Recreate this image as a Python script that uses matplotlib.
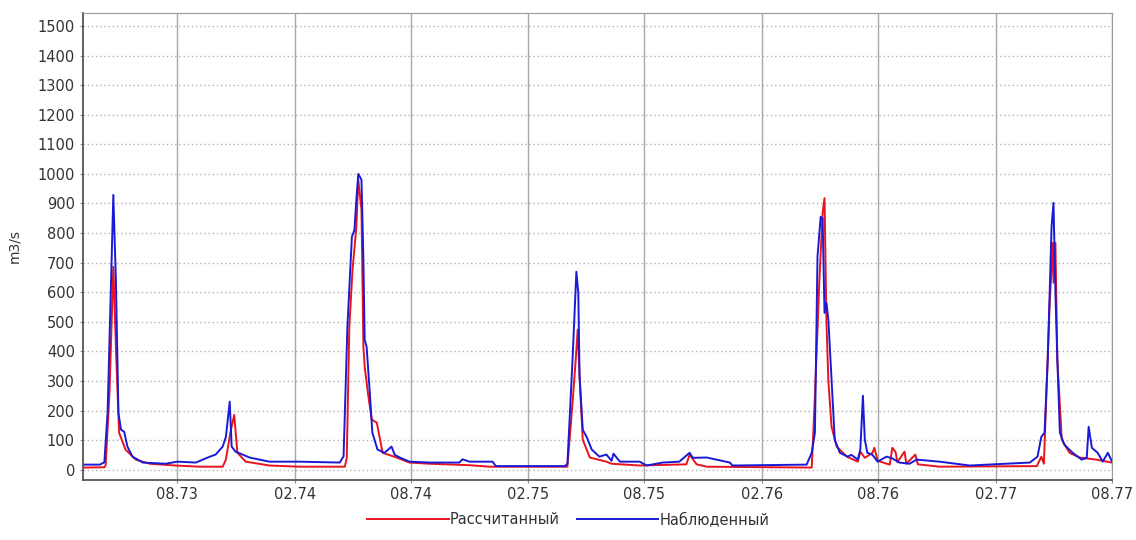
import matplotlib
matplotlib.use("Agg")
import matplotlib.pyplot as plt
import matplotlib.dates as mdates
import pandas as pd

plt.rcParams['font.family'] = ['DejaVu Sans']

# Reference date for the day offsets below (first labelled tick, 08.73)
base_date = "1973-08-01"

# Observed discharge (blue): day offset from base_date, value in m3/s
obs_days = [-148, -121, -114, -109, -104, -100, -96, -92, -88, -83, -78, -70, -54, -18, 0,
            29, 51, 60, 71, 76, 82, 85, 91, 113, 144, 191, 254, 260, 266, 273, 277, 280,
            283, 288, 291, 293, 296, 301, 305, 313, 324, 335, 340, 348, 363, 395, 441, 446,
            457, 493, 498, 606, 610, 618, 624, 627, 629, 634, 640, 648, 660, 671, 679, 682,
            692, 723, 734, 759, 785, 801, 806, 828, 864, 868, 984, 992, 997, 1001, 1006,
            1009, 1012, 1015, 1018, 1023, 1028, 1036, 1048, 1054, 1064, 1068, 1072, 1075,
            1079, 1087, 1095, 1109, 1118, 1129, 1145, 1156, 1192, 1239, 1333, 1345, 1351,
            1356, 1361, 1367, 1370, 1373, 1376, 1380, 1387, 1400, 1414, 1422, 1425, 1430,
            1439, 1447, 1455, 1461]
obs_vals = [17, 17, 25, 192, 600, 929, 640, 192, 135, 128, 78, 44, 24, 20, 27,
            24, 44, 51, 78, 111, 230, 78, 61, 41, 27, 27, 24, 45, 483, 787, 811, 912,
            1000, 980, 709, 439, 416, 260, 125, 68, 57, 78, 50, 41, 27, 24, 24, 35,
            27, 27, 12, 12, 20, 372, 669, 598, 314, 135, 111, 68, 44, 51, 30, 54,
            27, 27, 14, 24, 27, 57, 40, 41, 24, 14, 17, 57, 125, 720, 855,
            850, 530, 564, 507, 304, 101, 57, 44, 50, 34, 68, 250, 101,
            57, 50, 27, 44, 38, 24, 20, 34, 27, 14, 24, 44, 111,
            125, 372, 821, 902, 598, 372, 125, 84, 57, 34, 40, 145, 74,
            57, 27, 57, 30]

# Calculated discharge (red)
calc_days = [-148, -114, -112, -106, -100, -96, -91, -81, -65, -43, -3, 35, 71, 76, 83, 89,
             94, 107, 144, 191, 262, 265, 269, 274, 280, 283, 288, 291, 293, 298, 304, 312,
             321, 343, 363, 395, 457, 488, 610, 618, 623, 626, 629, 634, 645, 671, 679, 723,
             796, 801, 812, 828, 992, 997, 1004, 1009, 1012, 1015, 1018, 1023, 1031, 1047,
             1064, 1068, 1075, 1087, 1090, 1095, 1114, 1118, 1123, 1126, 1137, 1140, 1154,
             1158, 1192, 1344, 1351, 1355, 1359, 1364, 1369, 1370, 1373, 1376, 1383, 1395,
             1411, 1437, 1461]
calc_vals = [7, 8, 15, 260, 686, 416, 125, 68, 34, 20, 14, 10, 10, 34, 125, 185,
             57, 27, 14, 10, 10, 40, 483, 676, 821, 980, 878, 416, 348, 260, 169, 159,
             57, 41, 24, 20, 15, 10, 10, 226, 372, 473, 314, 101, 41, 27, 20, 14,
             18, 51, 18, 10, 7, 250, 642, 868, 918, 500, 300, 145, 78, 44,
             27, 61, 40, 57, 74, 30, 17, 74, 60, 25, 61, 20, 51,
             18, 10, 12, 44, 20, 260, 560, 767, 632, 767, 372, 101, 57,
             41, 34, 24]

series_labels = ["Рассчитанный", "Наблюденный"]

obs_dates = pd.to_datetime(base_date) + pd.to_timedelta(obs_days, unit="D")
calc_dates = pd.to_datetime(base_date) + pd.to_timedelta(calc_days, unit="D")

fig = plt.figure(figsize=(11.36, 5.4), dpi=100)
ax = fig.add_axes([0.0733, 0.1111, 0.9053, 0.8654])

ax.plot(calc_dates, calc_vals, color="#e8141c", lw=1.4, label=series_labels[0])
ax.plot(obs_dates, obs_vals, color="#1a1ad6", lw=1.4, label=series_labels[1])

ax.set_xlim(pd.to_datetime("1973-03-07"), pd.to_datetime("1977-08-01"))
ax.set_ylim(-35, 1545)
ax.set_yticks(range(0, 1501, 100))

ax.xaxis.set_major_locator(mdates.MonthLocator(bymonth=[2, 8]))
ax.xaxis.set_major_formatter(mdates.DateFormatter("%m.%y"))

ax.grid(axis="y", color="#b0b0b0", linestyle=(0, (1, 2)), lw=1.0)
ax.grid(axis="x", color="#a8a8a8", linestyle="-", lw=1.0)

ax.tick_params(axis="both", length=2, color="#888888", labelsize=10.5, labelcolor="#333333")
ax.tick_params(axis="x", pad=3)
ax.tick_params(axis="y", pad=4)

for side in ["top", "right"]:
    ax.spines[side].set_color("#9a9a9a")
for side in ["left", "bottom"]:
    ax.spines[side].set_color("#555555")
    ax.spines[side].set_linewidth(1.3)

ax.set_ylabel("m3/s", fontsize=10, color="#333333", labelpad=12)

fig.legend(loc="lower center", bbox_to_anchor=(0.5, 0.0), ncol=2, frameon=False,
           fontsize=10.5, handlelength=5.6, columnspacing=1.2, handletextpad=0.05,
           labelcolor="#333333")

plt.savefig("out.png", dpi=100)
plt.close()
